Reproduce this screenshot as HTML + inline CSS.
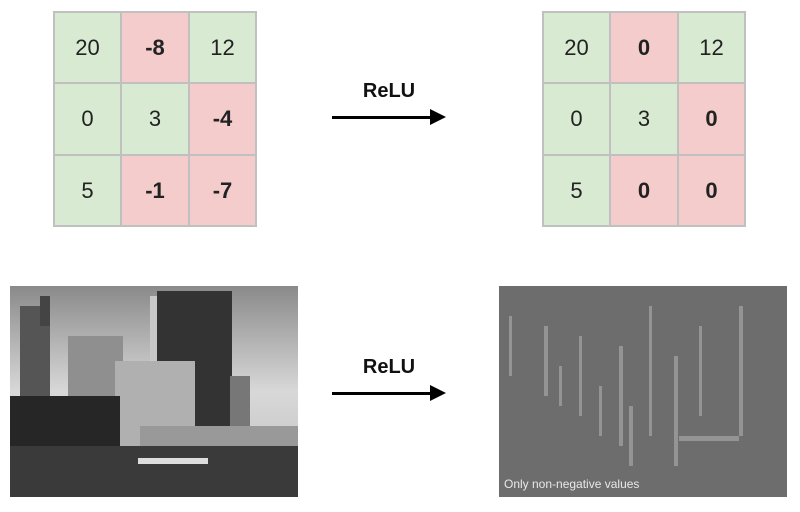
<!DOCTYPE html>
<html><head><meta charset="utf-8"><style>
body{margin:0;width:800px;height:512px;background:#fff;position:relative;overflow:hidden;font-family:"Liberation Sans",sans-serif}
.grid{position:absolute;top:11px;display:grid;grid-template-columns:67px 68px 67px;grid-template-rows:71px 72px 71px;border:1px solid #c0c0c0}
.grid div{display:flex;align-items:center;justify-content:center;font-size:22px;color:#222;border:0.5px solid #c0c0c0}
.g{background:#d9ead3}.r{background:#f4cccc;font-weight:bold}
.lab{position:absolute;font-weight:bold;font-size:20px;color:#111;width:120px;text-align:center}
.arrow{position:absolute;height:3px;background:#000}
.arrow:after{content:"";position:absolute;right:-4px;top:-7px;border-left:16px solid #000;border-top:8px solid transparent;border-bottom:8px solid transparent}
</style></head><body>
<div class="grid" style="left:53px">
<div class="g">20</div><div class="r">-8</div><div class="g">12</div>
<div class="g">0</div><div class="g">3</div><div class="r">-4</div>
<div class="g">5</div><div class="r">-1</div><div class="r">-7</div>
</div>
<div class="lab" style="left:329px;top:80px">ReLU</div>
<div class="arrow" style="left:332px;top:116px;width:110px"></div>
<div class="grid" style="left:542px">
<div class="g">20</div><div class="r">0</div><div class="g">12</div>
<div class="g">0</div><div class="g">3</div><div class="r">0</div>
<div class="g">5</div><div class="r">0</div><div class="r">0</div>
</div>
<svg style="position:absolute;left:10px;top:286px" width="288" height="211">
<defs><linearGradient id="sky" x1="0" y1="0" x2="0" y2="1"><stop offset="0" stop-color="#8a8a8a"/><stop offset="0.5" stop-color="#d8d8d8"/><stop offset="1" stop-color="#bdbdbd"/></linearGradient></defs>
<rect width="288" height="211" fill="url(#sky)"/>
<rect x="10" y="20" width="30" height="120" fill="#555"/><rect x="30" y="10" width="10" height="30" fill="#444"/>
<rect x="58" y="50" width="55" height="100" fill="#8f8f8f"/>
<rect x="140" y="10" width="30" height="120" fill="#c8c8c8"/>
<rect x="147" y="5" width="75" height="180" fill="#333"/>
<rect x="105" y="75" width="80" height="110" fill="#b0b0b0"/>
<rect x="220" y="90" width="20" height="70" fill="#777"/>
<rect x="0" y="110" width="110" height="60" fill="#262626"/>
<rect x="130" y="140" width="158" height="25" fill="#999"/>
<rect x="0" y="160" width="288" height="51" fill="#3a3a3a"/>
<rect x="128" y="172" width="70" height="6" fill="#ddd"/>
</svg>
<div class="lab" style="left:329px;top:356px">ReLU</div>
<div class="arrow" style="left:332px;top:392px;width:110px"></div>
<svg style="position:absolute;left:499px;top:286px" width="288" height="211">
<rect width="288" height="211" fill="#6d6d6d"/>
<g fill="#a5a5a5" opacity="0.7">
<rect x="10" y="30" width="3" height="60"/><rect x="45" y="40" width="4" height="70"/><rect x="80" y="50" width="3" height="80"/>
<rect x="120" y="60" width="4" height="100"/><rect x="150" y="20" width="3" height="130"/><rect x="175" y="70" width="4" height="110"/>
<rect x="200" y="40" width="3" height="90"/><rect x="240" y="20" width="4" height="130"/><rect x="180" y="150" width="60" height="5"/>
<rect x="130" y="120" width="4" height="60"/><rect x="100" y="100" width="3" height="50"/><rect x="60" y="80" width="3" height="40"/>
</g>
<text x="5" y="202" font-family="Liberation Sans, sans-serif" font-size="12" fill="#e8e8e8">Only non-negative values</text>
</svg>
</body></html>
